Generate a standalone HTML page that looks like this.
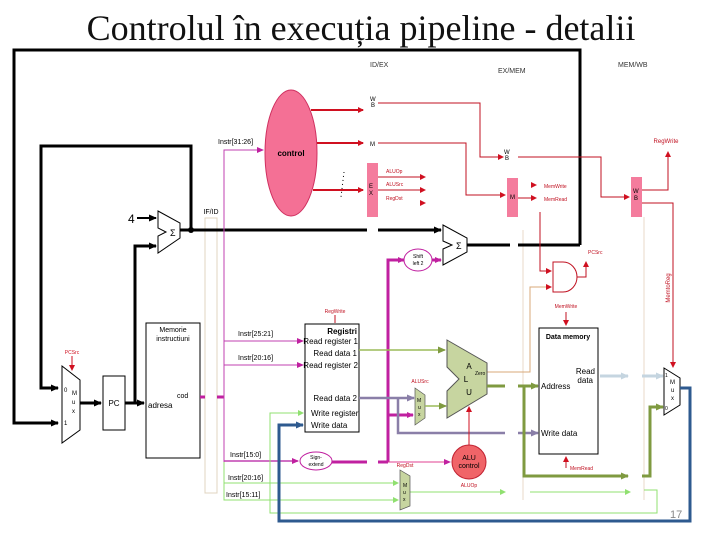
<!DOCTYPE html>
<html><head><meta charset="utf-8"><style>
html,body{margin:0;padding:0;background:#fff;}
svg{display:block;}
text{font-family:"Liberation Sans",sans-serif;}
</style></head><body>
<svg width="720" height="540" viewBox="0 0 720 540" xmlns="http://www.w3.org/2000/svg">
<defs>
<marker id="ak" markerUnits="userSpaceOnUse" markerWidth="8" markerHeight="8" refX="7" refY="4" orient="auto"><path d="M0,0.5L8,4L0,7.5z" fill="#000"/></marker>
<marker id="ar" markerUnits="userSpaceOnUse" markerWidth="6" markerHeight="6" refX="5" refY="3" orient="auto"><path d="M0,0L6,3L0,6z" fill="#d01020"/></marker>
<marker id="am" markerUnits="userSpaceOnUse" markerWidth="7" markerHeight="7" refX="6" refY="3.5" orient="auto"><path d="M0,0.5L7,3.5L0,6.5z" fill="#c020a0"/></marker>
<marker id="ag" markerUnits="userSpaceOnUse" markerWidth="6" markerHeight="6" refX="5" refY="3" orient="auto"><path d="M0,0L6,3L0,6z" fill="#90e070"/></marker>
<marker id="ao" markerUnits="userSpaceOnUse" markerWidth="8" markerHeight="8" refX="7" refY="4" orient="auto"><path d="M0,0.5L8,4L0,7.5z" fill="#7f9a40"/></marker>
<marker id="ap" markerUnits="userSpaceOnUse" markerWidth="8" markerHeight="8" refX="7" refY="4" orient="auto"><path d="M0,0.5L8,4L0,7.5z" fill="#8a7fa8"/></marker>
<marker id="ab" markerUnits="userSpaceOnUse" markerWidth="8" markerHeight="8" refX="7" refY="4" orient="auto"><path d="M0,0.5L8,4L0,7.5z" fill="#2e5a8f"/></marker>
<marker id="al" markerUnits="userSpaceOnUse" markerWidth="8" markerHeight="8" refX="7" refY="4" orient="auto"><path d="M0,0.5L8,4L0,7.5z" fill="#c5d5e0"/></marker>
</defs>
<text x="361" y="40" text-anchor="middle" font-size="36" fill="#111" style="font-family:'Liberation Serif',serif">Controlul în execuția pipeline - detalii</text>

<rect x="205" y="218" width="12" height="275" fill="none" stroke="#e0d4c0" stroke-width="1"/>
<line x1="523" y1="230" x2="523" y2="500" stroke="#e8d8c8"/>
<line x1="644" y1="217" x2="644" y2="500" stroke="#e8d8c8"/>

<g fill="none" stroke="#000" stroke-width="3">
<polyline points="580,245 580,50 14,50 14,423 58,423" marker-end="url(#ak)"/>
<polyline points="191,230 191,146 41,146 41,388 58,388" marker-end="url(#ak)"/>
<line x1="180" y1="230" x2="367" y2="230"/>
<line x1="378" y1="230" x2="441" y2="230" marker-end="url(#ak)"/>
<polyline points="467,245 510,245"/><polyline points="518,245 580,245"/>
<line x1="80" y1="403" x2="101" y2="403" marker-end="url(#ak)"/>
<line x1="125" y1="403" x2="144" y2="403" marker-end="url(#ak)"/>
<polyline points="135,403 135,246 156,246" marker-end="url(#ak)"/>
<line x1="137" y1="218" x2="156" y2="218" stroke-width="2" marker-end="url(#ak)"/>
</g>
<circle cx="191" cy="230" r="3" fill="#000"/>
<text x="128" y="223" font-size="12">4</text>
<polygon points="158,211 180,223 180,238 158,253 158,236 166,232 158,228" fill="#fff" stroke="#000"/>
<text x="170" y="236" font-size="9">Σ</text>
<polygon points="443,225 467,238 467,252 443,265 443,249 452,245 443,241" fill="#fff" stroke="#000"/>
<text x="456" y="249" font-size="9">Σ</text>
<text x="211" y="214" font-size="7" text-anchor="middle">IF/ID</text>

<polygon points="62,366 80,380 80,430 62,443" fill="#fff" stroke="#000"/>
<text x="64" y="392" font-size="6">0</text><text x="72" y="395" font-size="6">M</text><text x="72" y="404" font-size="6">u</text><text x="72" y="413" font-size="6">x</text><text x="64" y="425" font-size="6">1</text>
<text x="72" y="354" font-size="5" fill="#d01020" text-anchor="middle">PCSrc</text>
<line x1="72" y1="356" x2="72" y2="370" stroke="#d01020" marker-end="url(#ar)"/>
<rect x="103" y="376" width="22" height="54" fill="#fff" stroke="#000"/>
<text x="114" y="406" font-size="8" text-anchor="middle">PC</text>
<rect x="146" y="323" width="54" height="135" fill="#fff" stroke="#000"/>
<text x="173" y="332" font-size="7" text-anchor="middle">Memorie</text>
<text x="173" y="341" font-size="7" text-anchor="middle">instructiuni</text>
<text x="148" y="408" font-size="8">adresa</text>
<text x="177" y="398" font-size="7">cod</text>
<line x1="200" y1="397" x2="205" y2="397" stroke="#c020a0" stroke-width="3"/>
<line x1="217" y1="397" x2="224" y2="397" stroke="#c020a0" stroke-width="3"/>

<g stroke="#c040b0" fill="none" stroke-width="1">
<polyline points="224,462 224,150 263,150" marker-end="url(#am)"/>
<line x1="224" y1="341" x2="303" y2="341" marker-end="url(#am)"/>
<line x1="224" y1="365" x2="303" y2="365" marker-end="url(#am)"/>
<line x1="224" y1="461" x2="298" y2="461" stroke-width="1.5" marker-end="url(#am)"/>
</g>
<text x="218" y="144" font-size="7">Instr[31:26]</text>
<text x="238" y="336" font-size="7">Instr[25:21]</text>
<text x="238" y="360" font-size="7">Instr[20:16]</text>
<text x="230" y="457" font-size="7">Instr[15:0]</text>
<text x="228" y="480" font-size="7">Instr[20:16]</text>
<text x="226" y="497" font-size="7">Instr[15:11]</text>
<g stroke="#90e070" fill="none">
<polyline points="224,462 224,483 398,483" marker-end="url(#ag)"/>
<polyline points="224,483 224,500 398,500" marker-end="url(#ag)"/>
<line x1="410" y1="492" x2="505" y2="492" marker-end="url(#ag)"/>
<line x1="530" y1="492" x2="630" y2="492" marker-end="url(#ag)"/>
<polyline points="644,490 657,490 657,513 270,513 270,413 303,413" marker-end="url(#ag)"/>
</g>

<ellipse cx="291" cy="153" rx="26" ry="63" fill="#f47095" stroke="#d03060"/>
<text x="291" y="156" font-size="8" text-anchor="middle" font-weight="bold">control</text>
<g stroke="#d01020" stroke-width="2" fill="none">
<line x1="311" y1="110" x2="363" y2="110" marker-end="url(#ar)"/>
<line x1="317" y1="143" x2="363" y2="143" marker-end="url(#ar)"/>
<line x1="313" y1="190" x2="363" y2="190" marker-end="url(#ar)"/>
</g>
<line x1="344" y1="172" x2="341" y2="197" stroke="#000" stroke-dasharray="1,3"/>
<text x="370" y="67" font-size="7" fill="#333">ID/EX</text>
<text x="498" y="73" font-size="7" fill="#333">EX/MEM</text>
<text x="618" y="67" font-size="7" fill="#333">MEM/WB</text>
<text x="370" y="101" font-size="6">W</text><text x="371" y="107" font-size="6">B</text>
<text x="370" y="146" font-size="6">M</text>
<rect x="367" y="163" width="11" height="54" fill="#f47c9d"/>
<text x="369" y="188" font-size="6">E</text><text x="369" y="195" font-size="6">X</text>
<g stroke="#c01020" fill="none">
<polyline points="378,103 480,103 480,157 503,157" marker-end="url(#ar)"/>
<polyline points="378,143 466,143 466,195 505,195" marker-end="url(#ar)"/>
<line x1="378" y1="177" x2="425" y2="177" marker-end="url(#ar)"/>
<line x1="378" y1="190" x2="425" y2="190" marker-end="url(#ar)"/>
<line x1="420" y1="203" x2="425" y2="203" marker-end="url(#ar)"/>
<polyline points="518,157 601,157 601,197 629,197" marker-end="url(#ar)"/>
<line x1="518" y1="198" x2="536" y2="198" marker-end="url(#ar)"/>
<line x1="532" y1="185" x2="536" y2="185" marker-end="url(#ar)"/>
<polyline points="540,212 540,271 551,271" marker-end="url(#ar)"/>
<polyline points="573,277 586,277 586,262" marker-end="url(#ar)"/>
<polyline points="642,190 668,190 668,152" marker-end="url(#ar)"/>
<polyline points="642,203 673,203 673,367" marker-end="url(#ar)"/>
</g>
<text x="386" y="173" font-size="5" fill="#c01020">ALUOp</text>
<text x="386" y="186" font-size="5" fill="#c01020">ALUSrc</text>
<text x="386" y="200" font-size="5" fill="#c01020">RegDst</text>
<text x="504" y="154" font-size="6">W</text><text x="505" y="160" font-size="6">B</text>
<rect x="507" y="178" width="11" height="39" fill="#f47c9d"/>
<text x="510" y="199" font-size="6">M</text>
<text x="544" y="188" font-size="5" fill="#c01020">MemWrite</text>
<text x="544" y="201" font-size="5" fill="#c01020">MemRead</text>
<rect x="631" y="177" width="11" height="40" fill="#f47c9d"/>
<text x="633" y="193" font-size="6">W</text><text x="634" y="200" font-size="6">B</text>
<text x="666" y="143" font-size="6" fill="#c01020" text-anchor="middle">RegWrite</text>
<text x="670" y="288" font-size="6" fill="#c01020" transform="rotate(-90 670 288)" text-anchor="middle">MemtoReg</text>
<path d="M553,262 L563,262 A14,15 0 0 1 563,292 L553,292 Z" fill="#fff" stroke="#c01020"/>
<text x="588" y="254" font-size="5" fill="#c01020">PCSrc</text>
<polyline points="487,372 530,372 530,287 551,287" fill="none" stroke="#d8a878" marker-end="url(#ar)"/>

<polyline points="388,462 388,260 404,260" fill="none" stroke="#c020a0" stroke-width="3" marker-end="url(#am)"/>
<ellipse cx="418" cy="260" rx="14" ry="11" fill="#fff" stroke="#c020a0"/>
<text x="418" y="258" font-size="5" text-anchor="middle">Shift</text><text x="418" y="265" font-size="5" text-anchor="middle">left 2</text>
<line x1="432" y1="260" x2="441" y2="260" stroke="#c020a0" stroke-width="3" marker-end="url(#am)"/>
<line x1="332" y1="462" x2="367" y2="462" stroke="#c020a0" stroke-width="3"/>
<line x1="378" y1="462" x2="388" y2="462" stroke="#c020a0" stroke-width="3"/>
<line x1="388" y1="415" x2="413" y2="415" stroke="#c020a0" stroke-width="3" marker-end="url(#am)"/>
<line x1="388" y1="462" x2="450" y2="462" stroke="#e04090" marker-end="url(#am)"/>
<ellipse cx="316" cy="461" rx="16" ry="9" fill="#fff" stroke="#c020a0"/>
<text x="316" y="459" font-size="5" text-anchor="middle">Sign-</text><text x="316" y="466" font-size="5" text-anchor="middle">extend</text>

<rect x="305" y="324" width="54" height="108" fill="#fff" stroke="#000"/>
<text x="357" y="334" font-size="8" text-anchor="end" font-weight="bold">Registri</text>
<g font-size="8" text-anchor="end">
<text x="358" y="344">Read register 1</text>
<text x="357" y="356">Read data 1</text>
<text x="358" y="368">Read register 2</text>
<text x="357" y="401">Read data 2</text>
</g>
<text x="311" y="416" font-size="8">Write register</text>
<text x="311" y="428" font-size="8">Write data</text>
<text x="335" y="313" font-size="5" fill="#c01020" text-anchor="middle">RegWrite</text>
<line x1="335" y1="315" x2="335" y2="323" stroke="#c01020"/>

<line x1="359" y1="350" x2="445" y2="350" stroke="#9bbb59" stroke-width="1.5" marker-end="url(#ao)"/>
<g stroke="#8a7fa8" stroke-width="2.5" fill="none">
<line x1="359" y1="398" x2="414" y2="398" marker-end="url(#ap)"/>
<polyline points="398,398 398,433 505,433"/>
<line x1="518" y1="433" x2="538" y2="433" marker-end="url(#ap)"/>
</g>
<polygon points="415,388 425,395 425,418 415,425" fill="#c7d5a0" stroke="#555" stroke-width="0.7"/>
<text x="417" y="402" font-size="5">M</text><text x="418" y="409" font-size="5">u</text><text x="418" y="416" font-size="5">x</text>
<text x="420" y="383" font-size="5" fill="#c01020" text-anchor="middle">ALUSrc</text>
<line x1="425" y1="406" x2="446" y2="406" stroke="#9bbb59" stroke-width="1.5" marker-end="url(#ao)"/>
<polygon points="447,340 487,363 487,394 447,418 447,391 459,379 447,367" fill="#c7d5a0" stroke="#555"/>
<text x="469" y="369" font-size="8" text-anchor="middle">A</text>
<text x="466" y="382" font-size="8" text-anchor="middle">L</text>
<text x="469" y="395" font-size="8" text-anchor="middle">U</text>
<text x="475" y="375" font-size="5">Zero</text>
<line x1="469" y1="445" x2="469" y2="407" stroke="#d01020" marker-end="url(#ar)"/>
<circle cx="469" cy="462" r="17" fill="#f06468" stroke="#c02030"/>
<text x="469" y="460" font-size="7" text-anchor="middle">ALU</text><text x="469" y="468" font-size="7" text-anchor="middle">control</text>
<text x="469" y="487" font-size="5" fill="#c01020" text-anchor="middle">ALUOp</text>
<polygon points="400,470 410,476 410,506 400,510" fill="#c7d5a0" stroke="#555" stroke-width="0.7"/>
<text x="403" y="487" font-size="5">M</text><text x="403" y="494" font-size="5">u</text><text x="403" y="501" font-size="5">x</text>
<text x="405" y="467" font-size="5" fill="#c01020" text-anchor="middle">RegDst</text>

<g stroke="#7f9a40" stroke-width="3" fill="none">
<line x1="487" y1="386" x2="505" y2="386"/>
<line x1="518" y1="386" x2="538" y2="386" marker-end="url(#ao)"/>
<polyline points="524,386 524,476 628,476" marker-end="url(#ao)"/>
<polyline points="642,476 650,476 650,407 663,407" marker-end="url(#ao)"/>
</g>

<rect x="539" y="328" width="59" height="126" fill="#fff" stroke="#000"/>
<text x="568" y="339" font-size="7" text-anchor="middle" font-weight="bold">Data memory</text>
<text x="541" y="389" font-size="8">Address</text>
<text x="595" y="374" font-size="8" text-anchor="end">Read</text>
<text x="593" y="383" font-size="8" text-anchor="end">data</text>
<text x="541" y="436" font-size="8">Write data</text>
<text x="566" y="308" font-size="5" fill="#c01020" text-anchor="middle">MemWrite</text>
<line x1="566" y1="312" x2="566" y2="325" stroke="#c01020" marker-end="url(#ar)"/>
<line x1="566" y1="468" x2="566" y2="457" stroke="#c01020" marker-end="url(#ar)"/>
<text x="570" y="470" font-size="5" fill="#c01020">MemRead</text>
<g stroke="#c5d5e0" stroke-width="3">
<line x1="600" y1="376" x2="628" y2="376" marker-end="url(#al)"/>
<line x1="642" y1="376" x2="663" y2="376" marker-end="url(#al)"/>
</g>
<polygon points="664,368 680,378 680,405 664,415" fill="#fff" stroke="#000"/>
<text x="665" y="377" font-size="5">1</text><text x="670" y="384" font-size="6">M</text><text x="671" y="392" font-size="6">u</text><text x="671" y="400" font-size="6">x</text><text x="665" y="410" font-size="5">0</text>
<polyline points="680,388 690,388 690,521 279,521 279,425 303,425" fill="none" stroke="#2e5a8f" stroke-width="3" marker-end="url(#ab)"/>
<text x="670" y="518" font-size="11" fill="#888">17</text>
</svg>
</body></html>
